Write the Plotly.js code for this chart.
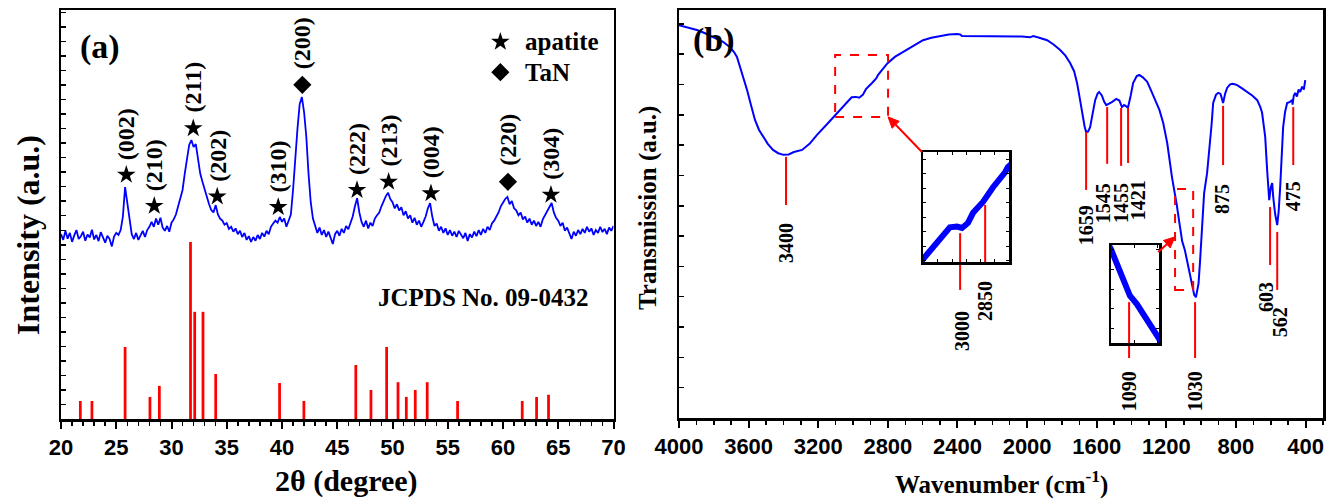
<!DOCTYPE html>
<html><head><meta charset="utf-8">
<script src="https://cdn.plot.ly/plotly-3.0.1.min.js"></script>
<style>html,body{margin:0;padding:0;background:#fff}#chart{width:1327px;height:500px}</style>
</head><body><div id="chart"></div>
<script>
// ---------- Panel (a): XRD ----------
const xrdStart = 20, xrdStep = 0.2;
const xrdIntensity = [
 4.52,4.38,4.60,4.41,4.55,4.33,4.49,4.62,4.40,4.47,4.58,4.36,4.51,4.44,4.63,4.39,4.50,4.35,4.57,4.45,4.31,4.48,4.40,4.22,4.46,4.55,
 4.50,4.62,4.95,5.67,5.30,4.85,4.52,4.40,4.55,4.38,
 4.49,4.60,4.45,4.62,4.70,4.82,4.70,4.90,4.75,4.92,4.68,4.60,4.72,4.58,
 4.80,4.88,5.00,5.20,5.35,5.60,6.00,6.35,6.70,6.82,6.65,6.72,6.30,6.00,5.80,5.60,5.43,5.25,5.11,5.05,5.23,5.00,4.90,4.85,4.75,4.79,
 4.65,4.70,4.58,4.66,4.52,4.60,4.45,4.55,4.38,4.47,4.33,4.45,4.36,4.50,4.40,4.55,4.46,4.60,4.52,4.70,4.78,4.85,4.80,4.94,4.82,4.90,4.70,4.85,
 5.00,5.60,6.50,7.10,7.70,7.87,7.50,6.90,6.00,5.30,4.90,4.70,
 4.55,4.68,4.50,4.62,4.45,4.58,4.40,4.28,4.52,4.60,4.48,4.65,4.55,4.72,4.64,
 4.80,4.95,5.20,5.40,5.05,4.82,4.70,4.85,4.66,4.80,4.72,4.90,
 4.98,5.05,5.20,5.35,5.45,5.53,5.38,5.30,5.15,5.25,5.10,5.18,4.98,5.08,4.90,4.98,4.80,4.92,4.75,4.85,4.70,4.82,4.95,5.15,5.28,4.95,4.72,4.78,4.60,4.70,
 4.55,4.66,4.50,4.62,4.48,4.58,4.45,4.60,4.50,4.42,4.55,4.35,4.52,4.44,4.58,4.47,4.62,4.50,4.65,4.55,4.70,4.62,4.78,
 4.85,4.95,5.05,5.20,5.30,5.38,5.43,5.25,5.33,5.15,5.10,4.98,5.05,4.88,4.95,4.80,4.90,4.75,4.85,4.72,4.82,4.70,4.88,4.98,5.10,5.18,5.28,5.05,4.92,4.85,
 4.72,4.80,4.60,4.68,4.52,4.40,4.58,4.48,4.62,4.52,4.65,4.55,4.70,4.58,4.66,4.50,4.62,4.55,4.70,4.57,4.65,4.52,4.68,4.60,4.72
];
const jcpdsAngle  = [21.75,22.8,25.8,28.05,28.9,31.72,32.1,32.85,34.0,39.78,41.98,46.68,48.05,49.47,50.5,51.25,52.06,53.14,55.89,61.74,63.04,64.12];
const jcpdsHeight = [0.44,0.44,1.76,0.54,0.81,4.33,2.62,2.62,1.10,0.88,0.44,1.32,0.71,1.76,0.90,0.54,0.71,0.90,0.44,0.44,0.54,0.59];
const apatiteAngle = [25.91,28.44,31.97,34.14,39.66,46.79,49.65,53.48,64.34];
const apatiteLevel = [5.97,5.21,7.11,5.44,5.18,5.60,5.80,5.52,5.48];
const apatiteHkl   = ['(002)','(210)','(211)','(202)','(310)','(222)','(213)','(004)','(304)'];
const tanAngle = [41.84,60.45];
const tanLevel = [8.17,5.80];
const tanHkl   = ['(200)','(220)'];
const legendNames   = ['apatite','TaN'];
const legendSymbols = ['star','diamond'];
const legendAngle   = [59.76,59.76];
const legendLevel   = [9.22,8.48];
const legendTextAngle = 61.84;
const jcpdsLabel = 'JCPDS No. 09-0432';
const jcpdsLabelPos = [58.17, 2.98];

// ---------- Panel (b): FTIR ----------
const ftirWave = [4000,3950,3897,3850,3805,3747,3707,3684,3667,3640,3609,3585,3563,3540,3517,3490,3460,3430,3400,3370,
 3340,3293,3250,3207,3150,3103,3054,3008,2983,2965,2944,2926,2891,2866,2856,2813,2803,2760,2713,2650,
 2598,2550,2500,2450,2402,2385,2374,2310,2250,2213,2150,2080,2030,1983,1965,1930,1885,1850,1810,1780,
 1753,1730,1713,1700,1684,1670,1661,1650,1638,1620,1609,1595,1586,1570,1557,1545,1530,1511,1488,1470,
 1455,1443,1430,1421,1405,1391,1370,1356,1335,1310,1290,1264,1240,1218,1195,1168,1150,1140,1124,1109,
 1094,1072,1050,1040,1030,1015,1006,995,983,966,948,940,931,915,902,890,885,874,862,851,
 835,822,808,793,765,736,705,678,660,650,640,632,621,615,609,600,592,586,575,563,
 555,546,537,529,518,506,490,477,475,468,460,450,440,431,420,410,402];
const ftirTrans = [9.63,9.57,9.51,9.43,9.34,9.22,9.09,8.97,8.85,8.50,8.04,7.65,7.30,7.06,6.89,6.72,6.57,6.49,6.45,6.46,
 6.52,6.57,6.72,6.94,7.20,7.41,7.64,7.86,7.87,7.85,7.92,8.06,8.21,8.33,8.41,8.62,8.69,8.85,8.97,9.14,
 9.26,9.32,9.36,9.40,9.41,9.40,9.36,9.36,9.36,9.36,9.35,9.36,9.35,9.33,9.36,9.32,9.26,9.16,9.02,8.88,
 8.70,8.50,8.21,7.90,7.48,7.15,7.01,7.02,7.13,7.50,7.79,7.95,7.99,7.90,7.75,7.67,7.70,7.75,7.82,7.78,
 7.62,7.67,7.64,7.60,7.90,8.21,8.38,8.41,8.35,8.24,8.05,7.79,7.55,7.23,6.74,5.91,5.50,5.22,4.75,4.33,
 4.12,3.68,3.17,3.02,2.96,3.30,3.87,4.70,5.51,6.00,6.74,7.20,7.72,7.92,7.97,7.95,7.89,7.72,7.95,8.09,
 8.17,8.19,8.18,8.16,8.08,7.99,7.90,7.79,7.62,7.48,7.20,6.89,6.08,5.60,5.34,5.65,5.76,5.42,5.00,4.73,
 5.05,5.66,6.40,7.13,7.50,7.72,7.75,7.79,7.68,7.90,7.97,7.88,8.05,7.99,8.12,8.05,8.28];
const bandLabels     = ['3400','3000','2850','1659','1545','1455','1421','1090','1030','875','603','562','475'];
const bandLineAt     = [3385,2385,2241,1661,1540,1460,1420,1414,1035,874,604,563,471];
const bandLineTop    = [6.40,4.53,5.22,7.01,7.62,7.60,7.60,2.84,2.84,7.65,5.17,4.56,7.62];
const bandLineBottom = [5.22,3.14,3.80,5.59,6.23,6.18,6.25,1.47,1.47,6.20,3.75,3.14,6.20];
const bandLabelAt    = [3385,2374,2241,1661,1563,1460,1362,1414,1035,879,627,546,471];
const bandLabelLevel = [4.29,2.13,2.87,4.73,5.27,5.27,5.34,0.66,0.66,5.37,2.97,2.35,5.44];
const zoom1Wave = [3103,2799], zoom1Trans = [7.38,8.90];
const zoom2Wave = [1150,1046], zoom2Trans = [3.14,5.61];
const arrow1Tail = [2604,6.52], arrow2Tip = [1150,4.44], arrow2Tail = [1247,4.07];

// ---------- layout helpers (pixel -> paper) ----------
const W0 = 61, PW = 1262, B0 = 419, PH = 409;
const px = v => (v - W0) / PW;
const py = v => (B0 - v) / PH;
const X2RANGE = [4000,300], X2PX = 644, Y2PX = 408;
const sx = X2PX / (X2RANGE[0] - X2RANGE[1]);   // px per cm-1 (axis reversed)
const sy = Y2PX / 10;                            // px per unit

const BLUE = '#0000ff', RED = '#ff0000';
const serifB = (s) => ({family:'Liberation Serif, Times New Roman, serif', size:s, color:'#000', weight:'bold'});
const sansB = {family:'Liberation Sans, Arial, sans-serif', size:22, color:'#000', weight:'bold'};

const traces = [];
traces.push({type:'scatter', mode:'lines', x: xrdIntensity.map((_, i) => +(xrdStart + i * xrdStep).toFixed(2)), y: xrdIntensity,
  xaxis:'x', yaxis:'y', line:{color:BLUE, width:1.8}, hoverinfo:'skip'});
traces.push({type:'bar', x: jcpdsAngle, y: jcpdsHeight, width:0.25, marker:{color:RED, line:{width:0}}, xaxis:'x', yaxis:'y', hoverinfo:'skip'});
traces.push({type:'scatter', mode:'markers', x: apatiteAngle, y: apatiteLevel, xaxis:'x', yaxis:'y',
  marker:{symbol:'star', size:14, color:'#000'}, hoverinfo:'skip'});
traces.push({type:'scatter', mode:'markers', x: tanAngle, y: tanLevel, xaxis:'x', yaxis:'y',
  marker:{symbol:'diamond', size:14, color:'#000'}, hoverinfo:'skip'});
traces.push({type:'scatter', mode:'markers', x: legendAngle, y: legendLevel, xaxis:'x', yaxis:'y',
  marker:{symbol:legendSymbols, size:14, color:'#000'}, hoverinfo:'skip'});
traces.push({type:'scatter', mode:'lines', x: ftirWave, y: ftirTrans, xaxis:'x2', yaxis:'y2',
  line:{color:BLUE, width:2}, hoverinfo:'skip'});
const bx = [], by = [];
bandLineAt.forEach((w, i) => { bx.push(w, w, null); by.push(bandLineTop[i], bandLineBottom[i], null); });
traces.push({type:'scatter', mode:'lines', x: bx, y: by, xaxis:'x2', yaxis:'y2', line:{color:RED, width:2}, hoverinfo:'skip'});
traces.push({type:'scatter', mode:'lines', x: ftirWave, y: ftirTrans, xaxis:'x3', yaxis:'y3', line:{color:BLUE, width:6}, hoverinfo:'skip'});
traces.push({type:'scatter', mode:'lines', x: ftirWave, y: ftirTrans, xaxis:'x4', yaxis:'y4', line:{color:BLUE, width:6}, hoverinfo:'skip'});

const frame = {showline:true, linecolor:'#000', linewidth:2.5, mirror:true, showgrid:false, zeroline:false, tickcolor:'#000'};
const tickOnly = {showline:false, showgrid:false, zeroline:false, showticklabels:false, tickcolor:'#000', tickmode:'linear'};
const inset = {showline:true, linecolor:'#000', linewidth:2.5, mirror:'ticks', showgrid:false, zeroline:false,
  showticklabels:false, ticks:'inside', ticklen:3, tickwidth:1, tickcolor:'#000'};

const annotations = [];
const ann = (o) => annotations.push(Object.assign({showarrow:false, xanchor:'center', yanchor:'middle'}, o));
ann({xref:'paper', yref:'paper', x:px(100), y:py(47), text:'(a)', font:serifB(34)});
ann({xref:'paper', yref:'paper', x:px(714), y:py(40), text:'(b)', font:serifB(34)});
ann({xref:'paper', yref:'paper', x:px(28), y:py(235), text:'Intensity (a.u.)', textangle:-90, font:serifB(32)});
ann({xref:'paper', yref:'paper', x:px(346), y:py(481), text:'2θ (degree)', font:serifB(30)});
ann({xref:'paper', yref:'paper', x:px(648), y:py(208), text:'Transmission (a.u.)', textangle:-90, font:serifB(25)});
ann({xref:'paper', yref:'paper', x:px(1001), y:py(482), text:'Wavenumber (cm<sup>-1</sup>)', font:serifB(25)});
apatiteHkl.forEach((t, i) => ann({xref:'x', yref:'y', x:apatiteAngle[i], y:apatiteLevel[i], yshift:41, text:t, textangle:-90, font:serifB(24)}));
tanHkl.forEach((t, i) => ann({xref:'x', yref:'y', x:tanAngle[i], y:tanLevel[i], yshift:42, text:t, textangle:-90, font:serifB(24)}));
legendNames.forEach((t, i) => ann({xref:'x', yref:'y', x:legendTextAngle, y:legendLevel[i], text:t, xanchor:'left', font:serifB(25)}));
ann({xref:'x', yref:'y', x:jcpdsLabelPos[0], y:jcpdsLabelPos[1], text:jcpdsLabel, font:serifB(25)});
bandLabels.forEach((t, i) => ann({xref:'x2', yref:'y2', x:bandLabelAt[i], y:bandLabelLevel[i], text:t, textangle:-90, font:serifB(20)}));

// arrows as shapes (line + filled head), geometry in pixels converted to axis units
function arrowShapes(tip, tail) {
  const dxp = -(tip[0] - tail[0]) * sx, dyp = -(tip[1] - tail[1]) * sy;
  const len = Math.hypot(dxp, dyp), ux = dxp / len, uy = dyp / len;
  const L = 11, H = 5;
  const toW = d => -d / sx, toT = d => -d / sy;
  const bcx = -L * ux, bcy = -L * uy;
  const p1 = [tip[0] + toW(bcx - H * uy), tip[1] + toT(bcy + H * ux)];
  const p2 = [tip[0] + toW(bcx + H * uy), tip[1] + toT(bcy - H * ux)];
  const base = [tip[0] + toW(bcx), tip[1] + toT(bcy)];
  return [
    {type:'line', xref:'x2', yref:'y2', x0:tail[0], y0:tail[1], x1:base[0], y1:base[1], line:{color:RED, width:2}},
    {type:'path', xref:'x2', yref:'y2', path:`M${tip[0]},${tip[1]} L${p1[0]},${p1[1]} L${p2[0]},${p2[1]} Z`, fillcolor:RED, line:{color:RED, width:1}}
  ];
}

const shapes = [
  {type:'rect', xref:'x2', yref:'y2', x0:zoom1Wave[0], x1:zoom1Wave[1], y0:zoom1Trans[0], y1:zoom1Trans[1], line:{color:RED, width:2, dash:'dash'}},
  {type:'rect', xref:'x2', yref:'y2', x0:zoom2Wave[0], x1:zoom2Wave[1], y0:zoom2Trans[0], y1:zoom2Trans[1], line:{color:RED, width:2, dash:'dash'}},
  ...arrowShapes([zoom1Wave[1], zoom1Trans[0]], arrow1Tail),
  ...arrowShapes(arrow2Tip, arrow2Tail)
];

const layout = {
  width:1327, height:500, margin:{l:61, r:4, t:10, b:81}, paper_bgcolor:'#fff', plot_bgcolor:'rgba(0,0,0,0)',
  showlegend:false, barmode:'overlay',
  xaxis: Object.assign({}, frame, {domain:[0, px(613.5)], range:[20,70], anchor:'y', tickmode:'linear', tick0:20, dtick:5,
    ticks:'outside', ticklen:7, tickwidth:2, tickfont:sansB,
    minor:{dtick:1, ticks:'outside', ticklen:4, tickwidth:1.5, tickcolor:'#000'}}),
  yaxis: Object.assign({}, frame, {domain:[0,1], range:[0,10], anchor:'x', showticklabels:false, tickmode:'linear', tick0:0, dtick:0.355,
    ticks:'inside', ticklen:5, tickwidth:1.5}),
  xaxis2: Object.assign({}, frame, {domain:[px(679), 1], range:X2RANGE, anchor:'y2', tickmode:'linear', tick0:4000, dtick:400,
    ticks:'outside', ticklen:7, tickwidth:2, tickfont:sansB,
    minor:{dtick:100, ticks:'outside', ticklen:4, tickwidth:1.5, tickcolor:'#000'}}),
  yaxis2: Object.assign({}, frame, {domain:[py(418), 1], range:[0,10], anchor:'x2', showticklabels:false, tickmode:'linear', tick0:0, dtick:0.743,
    ticks:'inside', ticklen:5, tickwidth:1.5}),
  xaxis3: Object.assign({}, inset, {domain:[px(923), px(1009)], range:zoom1Wave, anchor:'y3', nticks:8}),
  yaxis3: Object.assign({}, inset, {domain:[py(262), py(152)], range:zoom1Trans, anchor:'x3', nticks:12}),
  xaxis4: Object.assign({}, inset, {domain:[px(1111), px(1159)], range:zoom2Wave, anchor:'y4', nticks:5}),
  yaxis4: Object.assign({}, inset, {domain:[py(343), py(245)], range:zoom2Trans, anchor:'x4', nticks:10}),
  xaxis5: Object.assign({}, tickOnly, {overlaying:'x', anchor:'y', side:'top', range:[20,70], tick0:20, dtick:5, ticks:'inside', ticklen:6, tickwidth:2}),
  yaxis5: Object.assign({}, tickOnly, {overlaying:'y', anchor:'x', side:'right', range:[0,10], tick0:0, dtick:1, ticks:'inside', ticklen:6, tickwidth:2}),
  xaxis6: Object.assign({}, tickOnly, {overlaying:'x2', anchor:'y2', side:'top', range:X2RANGE, tick0:4000, dtick:400, ticks:'inside', ticklen:6, tickwidth:2}),
  yaxis6: Object.assign({}, tickOnly, {overlaying:'y2', anchor:'x2', side:'right', range:[0,10], tick0:0, dtick:1, ticks:'inside', ticklen:6, tickwidth:2}),
  annotations, shapes
};
Plotly.newPlot('chart', traces, layout, {staticPlot:true});
</script></body></html>
